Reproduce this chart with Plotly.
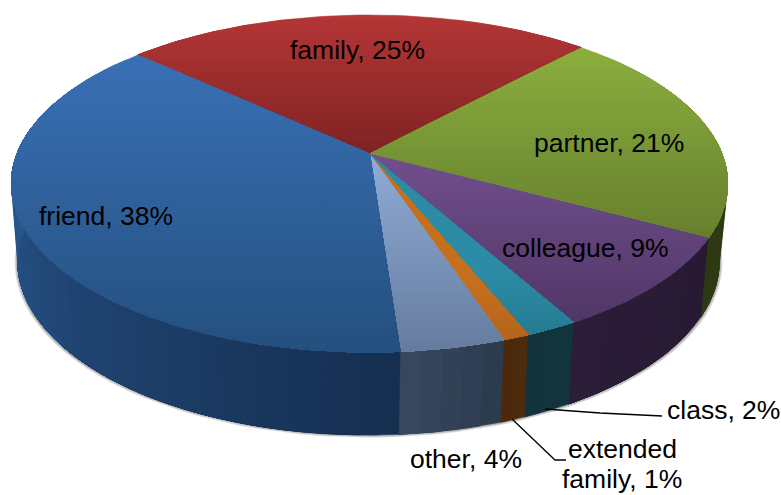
import math
import plotly.graph_objects as go

# ---- data ----
names = ["family", "partner", "colleague", "class", "extended family", "other", "friend"]
values = [25, 21, 9, 2, 1, 4, 38]
start_angle = -47.3  # clockwise from the far side of the pie

# top-face colour at the upper/lower reference rows, wall colour at slice start/end
top_hi = ["#B53636", "#8DB13F", "#72508F", "#2C8CA6", "#C5701F", "#90ACD6", "#3B72B8"]
top_lo = ["#7F2323", "#667F2E", "#4F3565", "#257A90", "#B4641A", "#667C9F", "#24507F"]
wall_a = ["#4A1515", "#33421A", "#281A33", "#12343D", "#4E2B0D", "#2B394C", "#152E50"]
wall_b = ["#4A1515", "#2C3912", "#2B1C38", "#12333C", "#4B290C", "#394960", "#2B5B94"]
y_hi = [15, 40, 150, 270, 280, 155, 40]
y_lo = [155, 240, 330, 340, 345, 352, 352]

# ---- projection of the two faces ----
CX, K = 369.5, 0.175
TOP = dict(x0=CX, y0=154.0, rx=352.5, ry=163.3, k=K)
BOT = dict(x0=CX - 1, y0=230.0, rx=345.0, ry=168.0, k=0.18)


def project(face, deg, r=1.0):
    t = math.radians(deg)
    u, v = r * math.sin(t), r * math.cos(t)
    s = 1 / (1 + face["k"] * v)
    return face["x0"] + face["rx"] * u * s, face["y0"] - face["ry"] * v * s


def hex_mix(a, b, f):
    f = max(0.0, min(1.0, f))
    ca = [int(a[i:i + 2], 16) for i in (1, 3, 5)]
    cb = [int(b[i:i + 2], 16) for i in (1, 3, 5)]
    return "#%02x%02x%02x" % tuple(round(p + (q - p) * f) for p, q in zip(ca, cb))


def clip_below(poly, y_cut):
    """Keep the part of a polygon with y >= y_cut."""
    out = []
    for i, p in enumerate(poly):
        q = poly[(i + 1) % len(poly)]
        pin, qin = p[1] >= y_cut, q[1] >= y_cut
        if pin:
            out.append(p)
        if pin != qin:
            f = (y_cut - p[1]) / (q[1] - p[1])
            out.append((p[0] + (q[0] - p[0]) * f, y_cut))
    return out


def add_poly(fig, poly, color, width=0.6):
    xs = [p[0] for p in poly] + [poly[0][0]]
    ys = [p[1] for p in poly] + [poly[0][1]]
    fig.add_trace(go.Scatter(x=xs, y=ys, mode="lines", fill="toself", fillcolor=color,
                             line=dict(color=color, width=width), hoverinfo="skip", showlegend=False))


fig = go.Figure()

# soft shadow beneath the wall
for scale, dy in ((1.009, 1.5), (1.006, 1), (1.003, 0.5)):
    pts = [project(BOT, a) for a in range(0, 360, 3)]
    xs = [CX + (p[0] - CX) * scale for p in pts]
    ys = [300 + (p[1] - 300) * scale + dy for p in pts]
    fig.add_trace(go.Scatter(x=xs + xs[:1], y=ys + ys[:1], mode="lines", fill="toself",
                             fillcolor="rgba(70,70,70,0.2)", line=dict(width=0),
                             hoverinfo="skip", showlegend=False))

# slice boundaries from the values
total = sum(values)
bounds = [start_angle]
for v in values:
    bounds.append(bounds[-1] + 360 * v / total)

# walls: overlapping strips painted in order, so there are no seams
for i in range(len(values)):
    a0, a1 = max(bounds[i], 80), min(bounds[i + 1], 280)
    if a1 <= a0:
        continue
    levels = max(3, int((a1 - a0) / 2.5))
    for j in range(levels):
        p = a0 + (a1 - a0) * j / levels
        angs = [p + (a1 - p) * t / 30 for t in range(31)]
        poly = [project(TOP, a) for a in angs] + [project(BOT, a) for a in reversed(angs)]
        add_poly(fig, poly, hex_mix(wall_a[i], wall_b[i], (j + 0.5) / levels))

# top face: each slice clipped to successive rows, painted top to bottom
for i in range(len(values)):
    a0, a1 = bounds[i], bounds[i + 1]
    n = max(3, int((a1 - a0) / 1.5))
    slice_poly = [project(TOP, 0, 0)] + [project(TOP, a0 + (a1 - a0) * t / n) for t in range(n + 1)]
    ymin, ymax = min(p[1] for p in slice_poly), max(p[1] for p in slice_poly)
    levels = max(4, int((ymax - ymin) / 5))
    for j in range(levels):
        cut = ymin + (ymax - ymin) * j / levels
        poly = clip_below(slice_poly, cut - 0.01)
        if len(poly) < 3:
            continue
        ym = cut + (ymax - ymin) / levels / 2
        add_poly(fig, poly, hex_mix(top_hi[i], top_lo[i], (ym - y_hi[i]) / (y_lo[i] - y_hi[i])))

# leader lines
fig.add_trace(go.Scatter(x=[545, 600, 662], y=[409, 413, 416], mode="lines",
                         line=dict(color="#000000", width=1.3), hoverinfo="skip", showlegend=False))
fig.add_trace(go.Scatter(x=[512, 555, 566], y=[419, 460, 460], mode="lines",
                         line=dict(color="#000000", width=1.3), hoverinfo="skip", showlegend=False))

# labels
label_pos = {
    "family": (357.5, 50), "partner": (609, 143), "colleague": (585, 248),
    "class": (723, 410), "other": (466, 459), "friend": (106, 216),
}
font = dict(family="Liberation Sans, Arial, sans-serif", size=26.5, color="#000000")
for name, val in zip(names, values):
    if name in label_pos:
        x, y = label_pos[name]
        fig.add_annotation(x=x, y=y, text=f"{name}, {val}%", showarrow=False, font=font,
                           xanchor="center", yanchor="middle")
    else:
        first, second = name.split(" ")
        fig.add_annotation(x=622, y=449, text=first, showarrow=False, font=font,
                           xanchor="center", yanchor="middle")
        fig.add_annotation(x=622, y=479, text=f"{second}, {val}%", showarrow=False, font=font,
                           xanchor="center", yanchor="middle")

fig.update_layout(
    width=781, height=495, margin=dict(l=0, r=0, t=0, b=0),
    paper_bgcolor="#FFFFFF", plot_bgcolor="#FFFFFF", showlegend=False,
    xaxis=dict(range=[0, 781], visible=False, fixedrange=True),
    yaxis=dict(range=[495, 0], visible=False, fixedrange=True),
)
fig.write_html("out.html", config={"displayModeBar": False},
               post_script="document.body.style.margin='0';document.body.style.overflow='hidden';")
